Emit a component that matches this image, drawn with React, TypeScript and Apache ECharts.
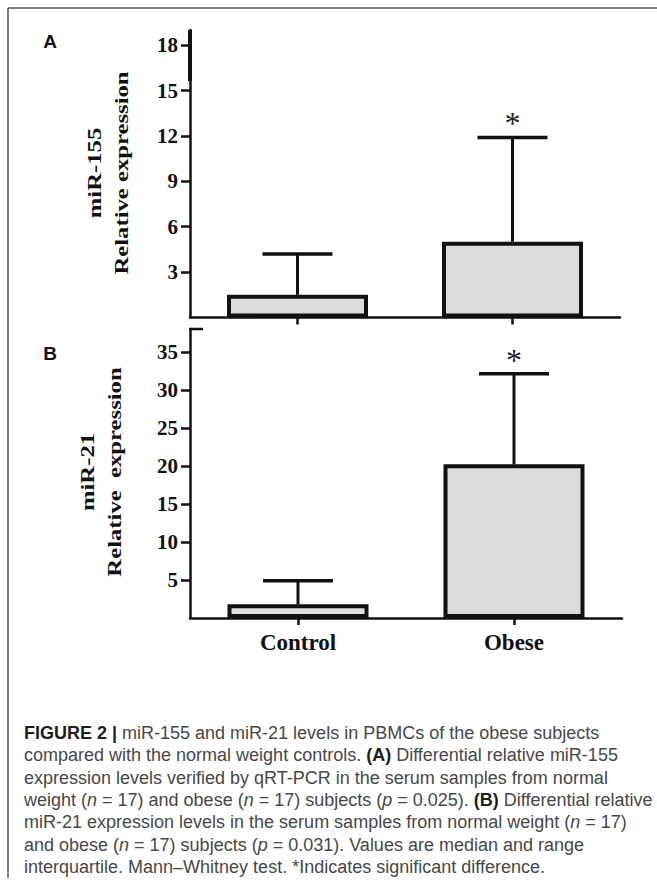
import React, { useEffect, useRef } from "react";
import * as echarts from "echarts";

const categories = ["Control", "Obese"];
const mir155Median = [1.5, 5.0];
const mir155Upper = [4.2, 11.9];
const mir21Median = [1.8, 20.2];
const mir21Upper = [4.9, 32.1];
const significant = [0, 1];
const ticksA = [3, 6, 9, 12, 15, 18];
const ticksB = [5, 10, 15, 20, 25, 30, 35];

const captionLines = [
  "{b|FIGURE 2 |} miR-155 and miR-21 levels in PBMCs of the obese subjects",
  "compared with the normal weight controls. {b|(A)} Differential relative miR-155",
  "expression levels verified by qRT-PCR in the serum samples from normal",
  "weight ({i|n} = 17) and obese ({i|n} = 17) subjects ({i|p} = 0.025). {b|(B)} Differential relative",
  "miR-21 expression levels in the serum samples from normal weight ({i|n} = 17)",
  "and obese ({i|n} = 17) subjects ({i|p} = 0.031). Values are median and range",
  "interquartile. Mann–Whitney test. *Indicates significant difference.",
];

const SERIF = "'Liberation Serif', 'Times New Roman', serif";
const SANS = "'Liberation Sans', Arial, sans-serif";
const INK = "#111";
const CAP_FONT = 18;
const CAP_COLOR = "#474747";

function errorSeries(gridIdx: number, med: number[], up: number[]) {
  return {
    type: "custom",
    xAxisIndex: gridIdx,
    yAxisIndex: gridIdx,
    z: 5,
    data: categories.map((_, i) => [i, med[i], up[i], significant[i]]),
    encode: { x: 0, y: [1, 2] },
    renderItem: (params: any, api: any) => {
      const idx = api.value(0);
      const m = api.value(1);
      const u = api.value(2);
      const sig = api.value(3);
      const p0 = api.coord([idx, m]);
      const p1 = api.coord([idx, u]);
      const half = 35;
      const children: any[] = [
        {
          type: "line",
          shape: { x1: p0[0], y1: p0[1], x2: p1[0], y2: p1[1] },
          style: { stroke: INK, lineWidth: 3 },
        },
        {
          type: "line",
          shape: { x1: p1[0] - half, y1: p1[1], x2: p1[0] + half, y2: p1[1] },
          style: { stroke: INK, lineWidth: 3.5 },
        },
      ];
      if (sig) {
        children.push({
          type: "text",
          x: p1[0],
          y: p1[1] + 2,
          style: {
            text: "*",
            fontSize: 32,
            fontFamily: SERIF,
            fill: "#222",
            align: "center",
            verticalAlign: "bottom",
          },
        });
      }
      return { type: "group", children };
    },
  };
}

function yAxisCfg(gridIdx: number, max: number, ticks: number[]) {
  return {
    type: "value",
    gridIndex: gridIdx,
    min: 0,
    max,
    splitLine: { show: false },
    axisLine: { show: true, lineStyle: { color: INK, width: 2.5 } },
    axisTick: {
      show: true,
      length: 9,
      customValues: ticks,
      lineStyle: { color: INK, width: 2.5 },
    },
    axisLabel: {
      customValues: ticks,
      margin: 12,
      fontSize: 21,
      fontWeight: "bold",
      fontFamily: SERIF,
      color: INK,
    },
  };
}

function xAxisCfg(gridIdx: number, showLabels: boolean) {
  return {
    type: "category",
    gridIndex: gridIdx,
    data: categories,
    axisLine: { show: true, lineStyle: { color: INK, width: 2.5 } },
    axisTick: {
      show: true,
      alignWithLabel: true,
      length: 7,
      lineStyle: { color: INK, width: 2.5 },
    },
    axisLabel: {
      show: showLabels,
      margin: 13,
      fontSize: 23,
      fontWeight: "bold",
      fontFamily: SERIF,
      color: INK,
    },
  };
}

function barSeries(gridIdx: number, values: number[]) {
  return {
    type: "bar",
    xAxisIndex: gridIdx,
    yAxisIndex: gridIdx,
    data: values,
    barWidth: 141,
    itemStyle: { color: "#dcdcdc", borderColor: INK, borderWidth: 4 },
    z: 3,
  };
}

function rotTitle(text: string, x: number, y: number) {
  return {
    type: "text",
    x,
    y,
    rotation: Math.PI / 2,
    scaleX: 1.3,
    style: {
      text,
      fontSize: 19,
      fontWeight: "bold",
      fontFamily: SERIF,
      fill: INK,
      align: "center",
      verticalAlign: "middle",
    },
  };
}

const rich = {
  b: { fontSize: CAP_FONT, fontFamily: SANS, fontWeight: "bold", fill: "#1e1e1e" },
  i: { fontSize: CAP_FONT, fontFamily: SANS, fontStyle: "italic", fill: CAP_COLOR },
};

export default function App() {
  const ref = useRef<HTMLDivElement>(null);
  useEffect(() => {
    document.body.style.margin = "0";
    const chart = echarts.init(ref.current!, null, { renderer: "svg" });
    const graphics: any[] = [
      { type: "line", shape: { x1: 8, y1: 8, x2: 657, y2: 8 }, style: { stroke: "#555", lineWidth: 1.5 } },
      { type: "line", shape: { x1: 8, y1: 8, x2: 8, y2: 878 }, style: { stroke: "#555", lineWidth: 1.5 } },
      { type: "text", x: 50, y: 41, style: { text: "A", fontSize: 19, fontWeight: "bold", fontFamily: SANS, fill: INK, align: "center", verticalAlign: "middle" } },
      { type: "text", x: 50, y: 353, style: { text: "B", fontSize: 19, fontWeight: "bold", fontFamily: SANS, fill: INK, align: "center", verticalAlign: "middle" } },
      rotTitle("miR-155", 95, 173),
      rotTitle("Relative expression", 122, 173),
      rotTitle("miR-21", 88, 472),
      rotTitle("Relative  expression", 115, 472),
      { type: "line", shape: { x1: 190, y1: 30, x2: 190, y2: 81 }, style: { stroke: INK, lineWidth: 4 }, z: 10 },
      { type: "line", shape: { x1: 189, y1: 329, x2: 203, y2: 329 }, style: { stroke: INK, lineWidth: 2.5 }, z: 10 },
    ];
    captionLines.forEach((line, i) => {
      graphics.push({
        type: "text",
        x: 24,
        y: 733 + i * 22.3,
        style: {
          text: line,
          fontSize: CAP_FONT,
          fontFamily: SANS,
          fill: CAP_COLOR,
          align: "left",
          verticalAlign: "middle",
          rich,
        },
      });
    });

    chart.setOption({
      animation: false,
      backgroundColor: "#fff",
      grid: [
        { left: 190, top: 30, width: 430, height: 287.5 },
        { left: 190, top: 329, width: 432, height: 289 },
      ],
      xAxis: [xAxisCfg(0, false), xAxisCfg(1, true)],
      yAxis: [yAxisCfg(0, 19, ticksA), yAxisCfg(1, 38, ticksB)],
      series: [
        barSeries(0, mir155Median),
        errorSeries(0, mir155Median, mir155Upper),
        barSeries(1, mir21Median),
        errorSeries(1, mir21Median, mir21Upper),
      ],
      graphic: graphics,
    });
    return () => chart.dispose();
  }, []);
  return (
    <div
      ref={ref}
      style={{ position: "absolute", left: 0, top: 0, width: 657, height: 881 }}
    />
  );
}
